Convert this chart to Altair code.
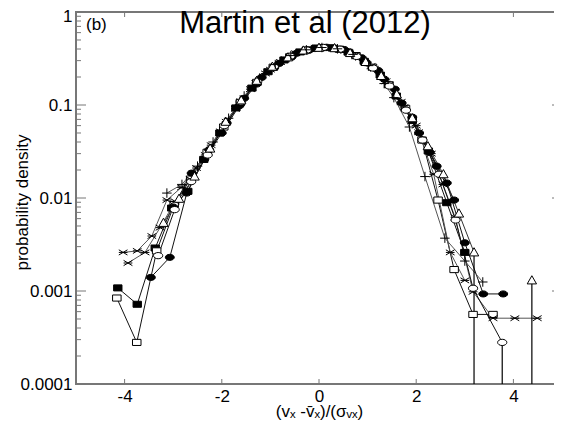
import altair as alt
import pandas as pd

# ---------------- data ----------------
X_TICKS = [-4, -2, 0, 2, 4]
Y_TICKS = [0.0001, 0.001, 0.01, 0.1, 1]
Y_MINOR = [m * 10.0 ** k for k in range(-4, 0) for m in range(2, 10)]

FSQ_X = [-4.14, -3.74, -3.37, -3.03, -2.70, -2.37, -2.04, -1.71, -1.38, -1.05, -0.72, -0.39, -0.06, 0.27, 0.60, 0.93, 1.26, 1.59, 1.92, 2.25, 2.63, 3.00]
FSQ_Y = [0.00108, 0.00072, 0.0029, 0.0078, 0.0118, 0.026, 0.050, 0.093, 0.152, 0.228, 0.305, 0.372, 0.410, 0.410, 0.370, 0.295, 0.210, 0.125, 0.068, 0.032, 0.0089, 0.0026]

OSQ_X = [-4.16, -3.75, -3.34, -2.98, -2.64, -2.30, -1.96, -1.62, -1.28, -0.94, -0.60, -0.26, 0.08, 0.42, 0.76, 1.10, 1.44, 1.78, 2.12, 2.45, 2.78, 3.17, 3.58]
OSQ_Y = [0.00084, 0.00028, 0.0027, 0.0085, 0.016, 0.031, 0.058, 0.106, 0.175, 0.255, 0.330, 0.390, 0.415, 0.398, 0.340, 0.255, 0.165, 0.092, 0.042, 0.0095, 0.0017, 0.00056, 0.00056]

STARA_X = [-4.03, -3.74, -3.44, -3.13, -2.83, -2.52, -2.22, -1.91, -1.61, -1.30, -1.00, -0.69, -0.39, -0.08, 0.22, 0.53, 0.83, 1.14, 1.44, 1.75, 2.05, 2.36, 2.70, 3.00]
STARA_Y = [0.0026, 0.0027, 0.0039, 0.0095, 0.013, 0.021, 0.037, 0.066, 0.110, 0.172, 0.240, 0.310, 0.372, 0.410, 0.418, 0.382, 0.322, 0.245, 0.165, 0.095, 0.051, 0.018, 0.0026, 0.0013]

STARB_X = [-3.93, -3.58, -3.27, -2.96, -2.65, -2.34, -2.03, -1.72, -1.41, -1.10, -0.79, -0.48, -0.17, 0.14, 0.45, 0.76, 1.07, 1.38, 1.69, 2.00, 2.31, 2.55, 2.80, 3.17, 3.58, 4.03, 4.49]
STARB_Y = [0.0020, 0.0026, 0.0048, 0.0092, 0.016, 0.029, 0.052, 0.091, 0.148, 0.218, 0.290, 0.360, 0.400, 0.414, 0.392, 0.335, 0.262, 0.180, 0.108, 0.060, 0.030, 0.014, 0.0062, 0.00098, 0.00051, 0.00051, 0.00051]

FCI_X = [-3.46, -3.07, -2.72, -2.36, -2.00, -1.64, -1.28, -0.92, -0.56, -0.20, 0.16, 0.52, 0.88, 1.22, 1.56, 1.92, 2.28, 2.63, 3.00, 3.38, 3.79]
FCI_Y = [0.0014, 0.0023, 0.0113, 0.026, 0.050, 0.098, 0.168, 0.252, 0.330, 0.390, 0.418, 0.395, 0.322, 0.235, 0.148, 0.074, 0.031, 0.0145, 0.0033, 0.00093, 0.00093]

FCI2_X = [-3.00, -2.62, -2.26, -1.90, -1.54, -1.18, -0.82, -0.46, -0.10, 0.26, 0.62, 0.98, 1.34, 1.70, 2.06, 2.42, 2.78]
FCI2_Y = [0.0080, 0.0185, 0.033, 0.064, 0.118, 0.198, 0.280, 0.360, 0.405, 0.412, 0.368, 0.285, 0.190, 0.105, 0.050, 0.022, 0.0095]

OCI_X = [-3.31, -2.97, -2.63, -2.29, -1.95, -1.61, -1.27, -0.93, -0.59, -0.25, 0.09, 0.43, 0.77, 1.11, 1.45, 1.79, 2.13, 2.47, 2.81, 3.17, 3.77]
OCI_Y = [0.0024, 0.0075, 0.015, 0.029, 0.060, 0.108, 0.178, 0.258, 0.335, 0.390, 0.416, 0.398, 0.333, 0.250, 0.160, 0.088, 0.042, 0.018, 0.0058, 0.00107, 0.00028]

TRI_X = [-3.20, -2.88, -2.56, -2.24, -1.92, -1.60, -1.28, -0.96, -0.64, -0.32, 0.00, 0.32, 0.64, 0.96, 1.28, 1.60, 1.92, 2.24, 2.56, 2.88, 3.19]
TRI_Y = [0.0054, 0.0098, 0.017, 0.034, 0.066, 0.112, 0.182, 0.258, 0.325, 0.385, 0.412, 0.408, 0.362, 0.290, 0.205, 0.130, 0.072, 0.036, 0.018, 0.0068, 0.0026]
TRI2_X = [4.38]
TRI2_Y = [0.0013]

PLUS_X = [-3.13, -2.82, -2.50, -2.18, -1.86, -1.54, -1.22, -0.90, -0.58, -0.26, 0.06, 0.38, 0.70, 1.02, 1.34, 1.54, 1.86, 2.18, 2.59, 3.00, 3.37]
PLUS_Y = [0.0113, 0.014, 0.022, 0.040, 0.072, 0.125, 0.195, 0.272, 0.340, 0.392, 0.415, 0.402, 0.350, 0.265, 0.170, 0.120, 0.058, 0.017, 0.0037, 0.0021, 0.00125]

ERR_X = [3.19, 3.77, 4.38]
ERR_Y = [0.0026, 0.00028, 0.0013]
ERR_LOW = [0.0001, 0.0001, 0.0001]

TITLE = "Martin et al (2012)"
PANEL = "(b)"
X_TITLE = "(v\u2093 -v\u0304\u2093)/(\u03c3\u1d65\u2093)"
Y_TITLE = "probability density"

# ---------------- styling ----------------
SQ = "M-1,-0.72H1V0.72H-1Z"
OVAL = "M-1,0A1,0.68,0,1,0,1,0A1,0.68,0,1,0,-1,0Z"
TRI = "M0,-1L1,0.75L-1,0.75Z"
PLUS = "M-1,0H1M0,-1V1"
STAR = "M-1,0H1M-1,-0.6L1,0.6M-1,0.6L1,-0.6"

NAMES = ["fsq", "osq", "starA", "starB", "fci", "fci2", "oci", "tri", "plus"]
SHAPES = [SQ, SQ, STAR, STAR, OVAL, OVAL, OVAL, TRI, PLUS]
FILLS = ["black", "white", "black", "black", "black", "black", "white", "white", "black"]
SIZES = [70, 90, 100, 100, 80, 80, 90, 90, 90]
LINE_COLORS = ["#111", "#111", "#555", "#555", "#111", "#111", "#111", "#333", "#555"]

SERIES = [
    ("fsq", "fsq", FSQ_X, FSQ_Y),
    ("osq", "osq", OSQ_X, OSQ_Y),
    ("starA", "starA", STARA_X, STARA_Y),
    ("starB", "starB", STARB_X, STARB_Y),
    ("fci", "fci", FCI_X, FCI_Y),
    ("fci2", "fci2", FCI2_X, FCI2_Y),
    ("oci", "oci", OCI_X, OCI_Y),
    ("tri", "tri", TRI_X, TRI_Y),
    ("tri", "tri2", TRI2_X, TRI2_Y),
    ("plus", "plus", PLUS_X, PLUS_Y),
]
rows = []
for name, seg, xs, ys in SERIES:
    for xv, yv in zip(xs, ys):
        rows.append({"series": name, "seg": seg, "x": xv, "y": yv})
df = pd.DataFrame(rows)
err = pd.DataFrame({"x": ERR_X, "y": ERR_Y, "y2": ERR_LOW})

W, H = 486, 372
AX = "#777"
FONT = "Liberation Sans"

xscale = alt.Scale(domain=[-5, 5], nice=False, zero=False)
yscale = alt.Scale(type="log", domain=[0.0001, 1], nice=False)

x_axis = alt.Axis(values=X_TICKS, labelExpr="'' + datum.value", ticks=False, domain=False,
                  grid=False, labelFontSize=17, labelPadding=4, labelFlush=False,
                  labelColor="black", title=X_TITLE, titleFontSize=17,
                  titleFontWeight="normal", titleColor="black",
                  titleY=19, titleBaseline="top")
y_axis = alt.Axis(values=Y_TICKS, format="~g", ticks=False, domain=False, grid=False,
                  labelFontSize=17, labelPadding=4, labelFlush=False, labelOverlap=False,
                  labelOffset={"condition": {"test": "datum.value >= 1", "value": 4}, "value": 0},
                  labelColor="black", title=Y_TITLE, titleFontSize=17,
                  titleFontWeight="normal", titleColor="black",
                  titleX=-45, titleY=190)

XE = alt.X("x:Q", scale=xscale, axis=x_axis)
YE = alt.Y("y:Q", scale=yscale, axis=y_axis)

lines = alt.Chart(df).mark_line(strokeWidth=1, clip=True).encode(
    x=XE, y=YE,
    detail="seg:N",
    color=alt.Color("series:N", scale=alt.Scale(domain=NAMES, range=LINE_COLORS), legend=None),
)

errbars = alt.Chart(err).mark_rule(color="black", strokeWidth=1.2, clip=True).encode(
    x=XE, y=YE, y2="y2:Q",
)

points = alt.Chart(df).mark_point(filled=True, clip=True).encode(
    x=XE, y=YE,
    shape=alt.Shape("series:N", scale=alt.Scale(domain=NAMES, range=SHAPES), legend=None),
    fill=alt.Fill("series:N", scale=alt.Scale(domain=NAMES, range=FILLS), legend=None),
    size=alt.Size("series:N", scale=alt.Scale(domain=NAMES, range=SIZES), legend=None),
    stroke=alt.value("black"),
    strokeWidth=alt.value(1),
    opacity=alt.value(1),
)

ymaj_df = pd.DataFrame({"y": Y_TICKS})
ymin_df = pd.DataFrame({"y": Y_MINOR})
xt_df = pd.DataFrame({"x": X_TICKS})

def ytick(d, x0, x1):
    return alt.Chart(d).mark_rule(color=AX, strokeWidth=1).encode(
        y=YE, x=alt.value(x0), x2=alt.value(x1))

def xtick(y0, y1):
    return alt.Chart(xt_df).mark_rule(color=AX, strokeWidth=1).encode(
        x=XE, y=alt.value(y0), y2=alt.value(y1))

ticks = [
    ytick(ymaj_df, 0, 10), ytick(ymaj_df, W - 10, W),
    ytick(ymin_df, 0, 5), ytick(ymin_df, W - 5, W),
    xtick(H - 5, H), xtick(0, 5),
]

title = alt.Chart(pd.DataFrame({"t": [TITLE]})).mark_text(
    font=FONT, fontSize=31, align="center", baseline="alphabetic", color="black"
).encode(text="t:N", x=alt.value(229), y=alt.value(21))

panel = alt.Chart(pd.DataFrame({"t": [PANEL]})).mark_text(
    font=FONT, fontSize=17, align="left", baseline="middle", color="black"
).encode(text="t:N", x=alt.value(10), y=alt.value(13))

chart = alt.layer(lines, errbars, points, *ticks, title, panel).properties(
    width=W, height=H,
    padding={"left": 68, "top": 4, "right": -8, "bottom": 36},
    autosize="none",
).configure(font=FONT).configure_view(stroke=AX, strokeWidth=2)

chart.save("out.html", embed_options={"renderer": "svg", "actions": False})
